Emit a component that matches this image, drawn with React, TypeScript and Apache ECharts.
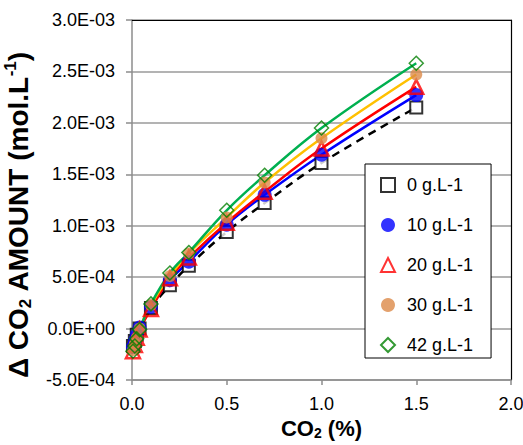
import React, { useEffect, useRef } from "react";
import * as echarts from "echarts";

const co2Percent = [0.005, 0.015, 0.025, 0.04, 0.1, 0.2, 0.3, 0.5, 0.7, 1.0, 1.5];
const seriesNames = ["0 g.L-1", "10 g.L-1", "20 g.L-1", "30 g.L-1", "42 g.L-1"];
// values in 1e-3 mol.L-1
const amount0 = [-0.17, -0.12, -0.06, 0.0, 0.2, 0.42, 0.61, 0.94, 1.22, 1.61, 2.15];
const amount10 = [-0.18, -0.12, -0.06, 0.01, 0.21, 0.47, 0.65, 1.01, 1.3, 1.69, 2.27];
const amount20 = [-0.22, -0.16, -0.09, -0.01, 0.19, 0.49, 0.69, 1.03, 1.33, 1.75, 2.35];
const amount30 = [-0.21, -0.15, -0.09, 0.0, 0.23, 0.51, 0.73, 1.08, 1.42, 1.85, 2.47];
const amount42 = [-0.22, -0.17, -0.1, -0.01, 0.24, 0.54, 0.74, 1.15, 1.49, 1.95, 2.58];
const yTicks = { min: -0.0005, max: 0.003, interval: 0.0005 };
const xTicks = { min: 0, max: 2, interval: 0.5 };

const FONT = "'Liberation Sans', Arial, Helvetica, sans-serif";

function fmtExp(v: number): string {
  if (Math.abs(v) < 1e-12) return "0.0E+00";
  const s = v.toExponential(1);
  const [m, e] = s.split("e");
  const sign = e[0] === "-" ? "-" : "+";
  const digits = e.replace(/^[+-]/, "").padStart(2, "0");
  return `${m}E${sign}${digits}`;
}

export default function App() {
  const ref = useRef<HTMLDivElement>(null);
  useEffect(() => {
    if (!ref.current) return;
    const chart = echarts.init(ref.current, null, { renderer: "svg" });
    const all = [amount0, amount10, amount20, amount30, amount42];
    const lineColors = ["#000000", "#0000ff", "#ff0000", "#ffc000", "#00b050"];
    const symbols = ["rect", "circle", "triangle", "circle", "diamond"];
    const symbolSizes = [12, 14, 14, 12, 14];
    const itemStyles: any[] = [
      { color: "#ffffff", borderColor: "#000000", borderWidth: 2 },
      { color: "#0000ff", borderColor: "#0000ff", borderWidth: 0 },
      { color: "rgba(255,255,255,0)", borderColor: "#ff0000", borderWidth: 2.5 },
      { color: "#dc8a48", borderColor: "#dc8a48", borderWidth: 0 },
      { color: "rgba(255,255,255,0)", borderColor: "#008000", borderWidth: 1.5 },
    ];
    const toData = (arr: number[]) => arr.map((v, i) => [co2Percent[i], v * 1e-3]);
    const lineSeries = all.map((arr, k) => ({
      type: "line",
      name: "fit" + k,
      data: toData(arr),
      smooth: 0.4,
      showSymbol: false,
      symbol: "none",
      lineStyle: {
        color: lineColors[k],
        width: 2.5,
        type: k === 0 ? [8, 6] : "solid",
      },
      z: 2,
      silent: true,
    }));
    const scatterSeries = all.map((arr, k) => ({
      type: "scatter",
      name: seriesNames[k],
      data: toData(arr),
      symbol: symbols[k],
      symbolSize: symbolSizes[k],
      itemStyle: itemStyles[k],
      z: 3 + k,
    }));
    chart.setOption({
      animation: false,
      backgroundColor: "#ffffff",
      textStyle: { fontFamily: FONT },
      grid: { left: 132, right: 12, top: 20, bottom: 65, containLabel: false, outerBoundsMode: "none" },
      legend: {
        data: seriesNames,
        orient: "vertical",
        left: 365,
        top: 164,
        backgroundColor: "#ffffff",
        borderColor: "#000000",
        borderWidth: 1,
        borderRadius: 0,
        padding: [11, 18, 3, 15],
        itemWidth: 14,
        itemHeight: 14,
        itemGap: 20,
        textStyle: { fontFamily: FONT, fontSize: 18, color: "#000", lineHeight: 20, padding: [0, 0, 0, 7] },
      },
      xAxis: [
        {
          type: "value",
          min: xTicks.min,
          max: xTicks.max,
          interval: xTicks.interval,
          position: "bottom",
          name: "{b|CO}{s|2}{b| (%)}",
          nameLocation: "middle",
          nameGap: 36,
          nameTextStyle: {
            rich: {
              b: { fontFamily: FONT, fontSize: 22, fontWeight: "bold", color: "#000", lineHeight: 22 },
              s: { fontFamily: FONT, fontSize: 14, fontWeight: "bold", color: "#000", lineHeight: 22, verticalAlign: "bottom", padding: [8, 0, 0, 0] },
            },
          },
          axisLine: { show: true, onZero: false, lineStyle: { color: "#8c8c8c", width: 1.5 } },
          axisTick: { show: true, length: 5, lineStyle: { color: "#8c8c8c", width: 1.5 } },
          axisLabel: { fontFamily: FONT, fontSize: 18, color: "#000", margin: 15, formatter: (v: number) => v.toFixed(1) },
          splitLine: { show: false },
        },
        {
          type: "value",
          min: xTicks.min,
          max: xTicks.max,
          position: "top",
          axisLine: { show: true, onZero: false, lineStyle: { color: "#000", width: 1.2 } },
          axisTick: { show: false },
          axisLabel: { show: false },
          splitLine: { show: false },
        },
      ],
      yAxis: [
        {
          type: "value",
          min: yTicks.min,
          max: yTicks.max,
          interval: yTicks.interval,
          position: "left",
          name: "{b|Δ CO}{s|2}{b| AMOUNT (mol.L}{p|-1}{b|)}",
          nameLocation: "middle",
          nameGap: 98,
          nameRotate: 90,
          nameTextStyle: {
            padding: [0, 30, 0, 0],
            rich: {
              b: { fontFamily: FONT, fontSize: 28, fontWeight: "bold", color: "#000", lineHeight: 32 },
              s: { fontFamily: FONT, fontSize: 17, fontWeight: "bold", color: "#000", lineHeight: 32, verticalAlign: "bottom", padding: [12, 0, 0, 0] },
              p: { fontFamily: FONT, fontSize: 17, fontWeight: "bold", color: "#000", lineHeight: 32, verticalAlign: "top", padding: [0, 0, 10, 0] },
            },
          },
          axisLine: { show: true, onZero: false, lineStyle: { color: "#8c8c8c", width: 1.5 } },
          axisTick: { show: true, length: 6, lineStyle: { color: "#8c8c8c", width: 1.5 } },
          axisLabel: { fontFamily: FONT, fontSize: 18, color: "#000", margin: 17, formatter: (v: number) => fmtExp(v) },
          splitLine: { show: true, lineStyle: { color: "#9a9a9a", width: 1.5 } },
        },
        {
          type: "value",
          min: yTicks.min,
          max: yTicks.max,
          position: "right",
          axisLine: { show: true, onZero: false, lineStyle: { color: "#000", width: 1.2 } },
          axisTick: { show: false },
          axisLabel: { show: false },
          splitLine: { show: false },
        },
      ],
      series: [...lineSeries, ...scatterSeries],
    });
    return () => chart.dispose();
  }, []);
  return <div ref={ref} style={{ width: 523, height: 445, position: "absolute", left: 0, top: 0 }} />;
}
